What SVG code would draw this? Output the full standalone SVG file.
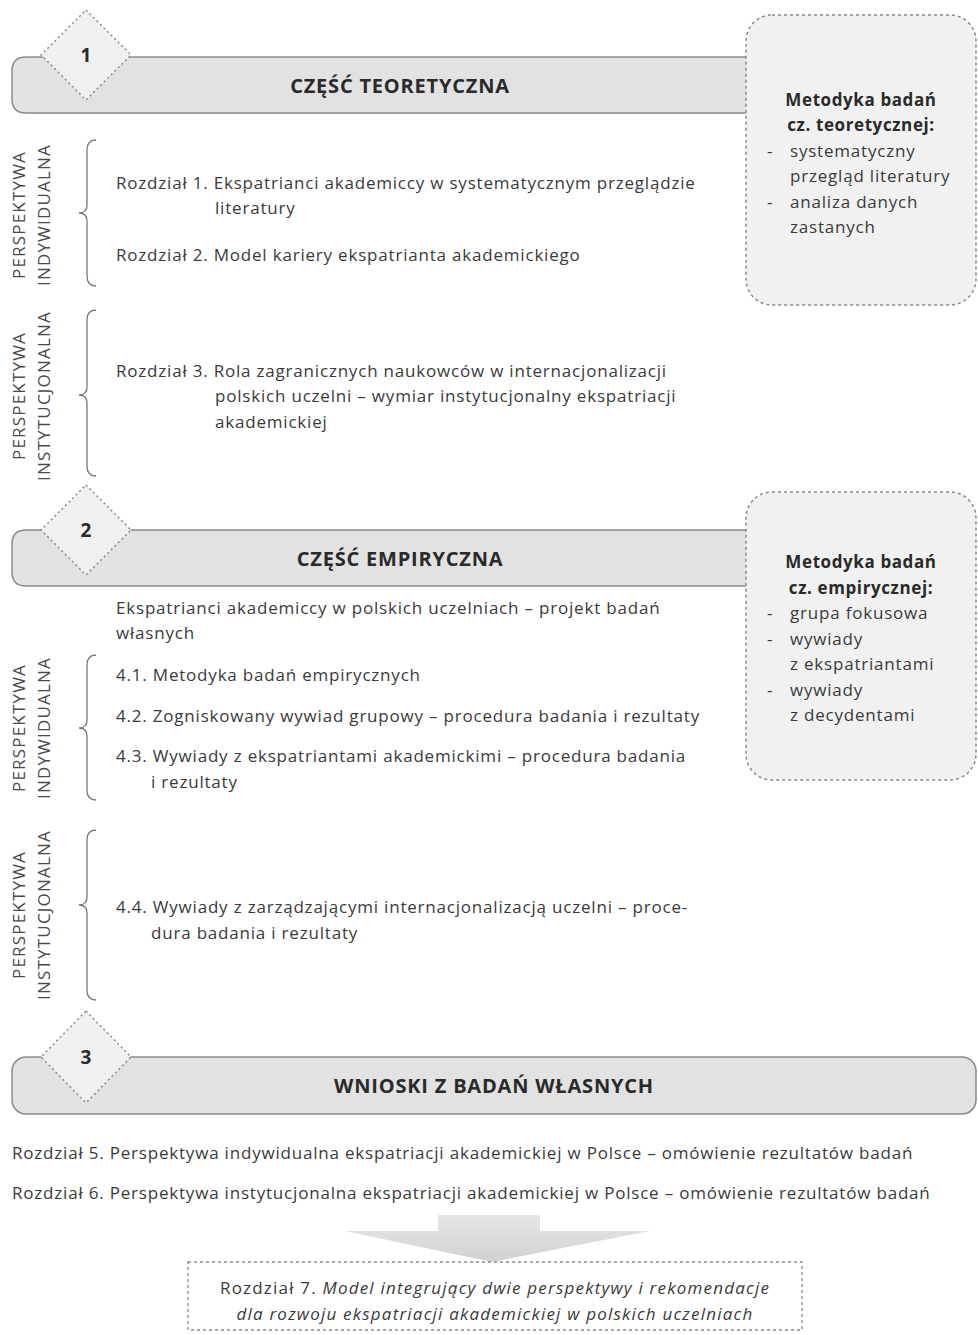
<svg xmlns="http://www.w3.org/2000/svg" width="978" height="1335" viewBox="0 0 978 1335">
<defs>
<style>
text{font-family:"Open Sans","DejaVu Sans",sans-serif;fill:#3a3a3a;}
.t{font-size:17px;letter-spacing:0.8px;}
.ti{font-size:17px;letter-spacing:1.2px;text-anchor:middle;}
.h{font-size:20px;font-weight:bold;letter-spacing:0.8px;text-anchor:middle;fill:#2a2a2a;}
.n{font-size:19px;font-weight:bold;text-anchor:middle;fill:#2a2a2a;}
.m{font-size:17px;letter-spacing:0.8px;}
.mb{font-size:17px;font-weight:bold;letter-spacing:0.6px;text-anchor:middle;fill:#2a2a2a;}
.v{font-size:17px;letter-spacing:1.2px;text-anchor:middle;fill:#4a4a4a;}
.banner{fill:#e2e2e2;stroke:#8a8a8a;stroke-width:1.5;}
.dia{fill:#f0f0f0;stroke:#8a8a8a;stroke-width:1.5;stroke-dasharray:2 3;}
.mbox{fill:#f1f1f1;stroke:#8a8a8a;stroke-width:1.5;stroke-dasharray:3 3;}
.brace{fill:none;stroke:#777;stroke-width:1.3;}
</style>
<linearGradient id="ag" x1="0" y1="0" x2="0" y2="1">
<stop offset="0" stop-color="#e6e6e6"/>
<stop offset="1" stop-color="#d2d2d2"/>
</linearGradient>
</defs>

<g id="part1">
<path class="banner" d="M760,57 L26,57 Q12,57 12,71 L12,99 Q12,113 26,113 L760,113"/>
<text class="h" x="400" y="93">CZĘŚĆ TEORETYCZNA</text>
</g>
<g id="diamond1">
<polygon class="dia" points="86,10 131,55 86,100 41,55"/>
<text class="n" x="86" y="62">1</text>
</g>
<g id="method1">
<rect class="mbox" x="746" y="15" width="230" height="290" rx="26"/>
<text class="mb" x="861" y="106">Metodyka badań</text>
<text class="mb" x="861" y="131">cz. teoretycznej:</text>
<text class="m" x="767" y="157">-</text>
<text class="m" x="790" y="157">systematyczny</text>
<text class="m" x="790" y="182">przegląd literatury</text>
<text class="m" x="767" y="208">-</text>
<text class="m" x="790" y="208">analiza danych</text>
<text class="m" x="790" y="233">zastanych</text>
</g>

<g id="persp1">
<path class="brace" d="M96,140 Q87,140 87,150 L87,205 Q87,213 79,213 Q87,213 87,221 L87,276 Q87,286 96,286"/>
<text class="v" transform="translate(25,215) rotate(-90)">PERSPEKTYWA</text>
<text class="v" transform="translate(50,215) rotate(-90)">INDYWIDUALNA</text>
<text class="t" x="116" y="189">Rozdział 1. Ekspatrianci akademiccy w systematycznym przeglądzie</text>
<text class="t" x="215" y="214">literatury</text>
<text class="t" x="116" y="261">Rozdział 2. Model kariery ekspatrianta akademickiego</text>
</g>

<g id="persp2">
<path class="brace" d="M96,310 Q87,310 87,320 L87,387 Q87,395 79,395 Q87,395 87,403 L87,466 Q87,476 96,476"/>
<text class="v" transform="translate(25,396) rotate(-90)">PERSPEKTYWA</text>
<text class="v" transform="translate(50,396) rotate(-90)">INSTYTUCJONALNA</text>
<text class="t" x="116" y="377">Rozdział 3. Rola zagranicznych naukowców w internacjonalizacji</text>
<text class="t" x="215" y="402">polskich uczelni – wymiar instytucjonalny ekspatriacji</text>
<text class="t" x="215" y="428">akademickiej</text>
</g>

<g id="part2">
<path class="banner" d="M760,530 L26,530 Q12,530 12,544 L12,572 Q12,586 26,586 L760,586"/>
<text class="h" x="400" y="566">CZĘŚĆ EMPIRYCZNA</text>
</g>
<g id="diamond2">
<polygon class="dia" points="86,485 131,530 86,575 41,530"/>
<text class="n" x="86" y="537">2</text>
</g>
<g id="method2">
<rect class="mbox" x="746" y="492" width="230" height="288" rx="26"/>
<text class="mb" x="861" y="568">Metodyka badań</text>
<text class="mb" x="861" y="594">cz. empirycznej:</text>
<text class="m" x="767" y="619">-</text>
<text class="m" x="790" y="619">grupa fokusowa</text>
<text class="m" x="767" y="645">-</text>
<text class="m" x="790" y="645">wywiady</text>
<text class="m" x="790" y="670">z ekspatriantami</text>
<text class="m" x="767" y="696">-</text>
<text class="m" x="790" y="696">wywiady</text>
<text class="m" x="790" y="721">z decydentami</text>
</g>

<g id="intro2">
<text class="t" x="116" y="614">Ekspatrianci akademiccy w polskich uczelniach – projekt badań</text>
<text class="t" x="116" y="639">własnych</text>
</g>

<g id="persp3">
<path class="brace" d="M96,655 Q87,655 87,665 L87,720 Q87,728 79,728 Q87,728 87,736 L87,790 Q87,800 96,800"/>
<text class="v" transform="translate(25,728) rotate(-90)">PERSPEKTYWA</text>
<text class="v" transform="translate(50,728) rotate(-90)">INDYWIDUALNA</text>
<text class="t" x="116" y="681">4.1. Metodyka badań empirycznych</text>
<text class="t" x="116" y="722">4.2. Zogniskowany wywiad grupowy – procedura badania i rezultaty</text>
<text class="t" x="116" y="762">4.3. Wywiady z ekspatriantami akademickimi – procedura badania</text>
<text class="t" x="151" y="788">i rezultaty</text>
</g>

<g id="persp4">
<path class="brace" d="M96,830 Q87,830 87,840 L87,897 Q87,905 79,905 Q87,905 87,913 L87,990 Q87,1000 96,1000"/>
<text class="v" transform="translate(25,915) rotate(-90)">PERSPEKTYWA</text>
<text class="v" transform="translate(50,915) rotate(-90)">INSTYTUCJONALNA</text>
<text class="t" x="116" y="913">4.4. Wywiady z zarządzającymi internacjonalizacją uczelni – proce-</text>
<text class="t" x="151" y="939">dura badania i rezultaty</text>
</g>

<g id="part3">
<rect class="banner" x="12" y="1057" width="964" height="57" rx="14"/>
<text class="h" x="494" y="1093">WNIOSKI Z BADAŃ WŁASNYCH</text>
</g>
<g id="diamond3">
<polygon class="dia" points="86,1011 131,1057 86,1103 41,1057"/>
<text class="n" x="86" y="1064">3</text>
</g>

<g id="conclusions">
<text class="t" x="12" y="1159">Rozdział 5. Perspektywa indywidualna ekspatriacji akademickiej w Polsce – omówienie rezultatów badań</text>
<text class="t" x="12" y="1199">Rozdział 6. Perspektywa instytucjonalna ekspatriacji akademickiej w Polsce – omówienie rezultatów badań</text>
</g>

<g id="connectors">
<polygon fill="url(#ag)" points="438,1215 540,1215 540,1231 650,1231 492,1262 345,1231 438,1231"/>
</g>

<g id="chapter7">
<rect x="188" y="1262" width="614" height="68" fill="#ffffff" stroke="#8a8a8a" stroke-width="1.3" stroke-dasharray="3 3"/>
<text class="ti" x="495" y="1294">Rozdział 7. <tspan font-style="italic">Model integrujący dwie perspektywy i rekomendacje</tspan></text>
<text class="ti" x="495" y="1320" font-style="italic">dla rozwoju ekspatriacji akademickiej w polskich uczelniach</text>
</g>
</svg>
